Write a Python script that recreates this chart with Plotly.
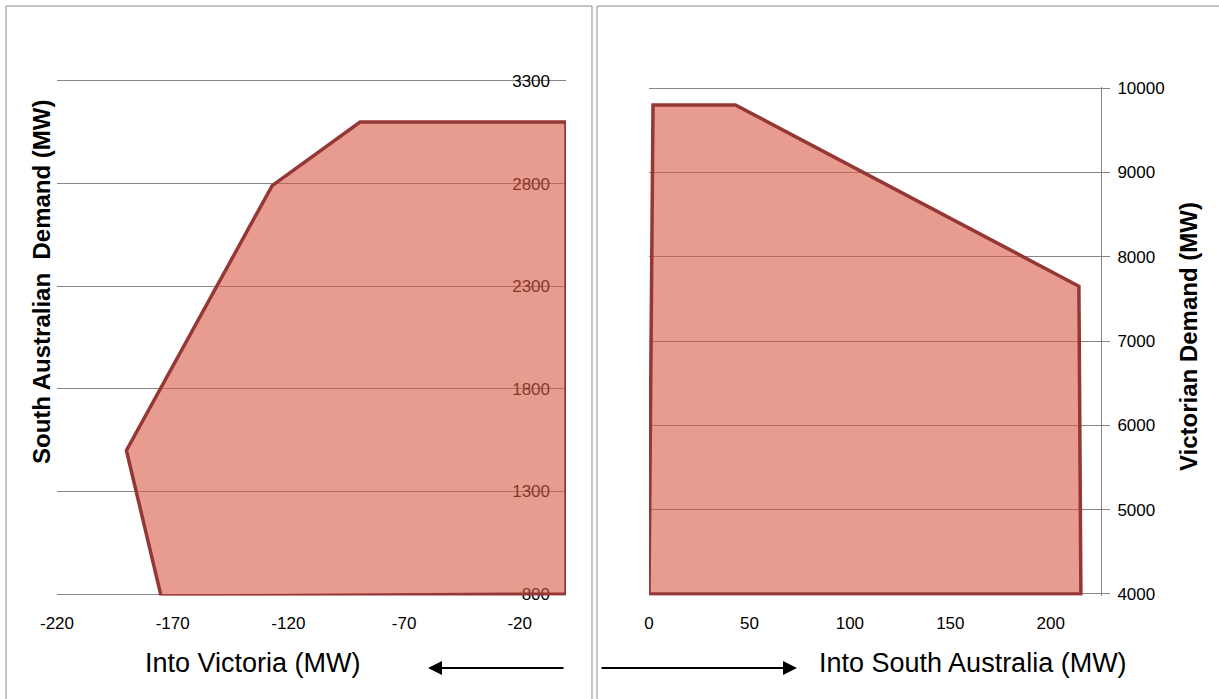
import plotly.graph_objects as go

W, H = 1219, 699

# Left chart: flow into Victoria vs South Australian demand
vic_flow_x = [-175, -190, -127, -89, 0, 0, -175]
sa_demand_y = [790, 1500, 2790, 3100, 3100, 800, 790]
left_xticks = [-220, -170, -120, -70, -20]
left_xticklabels = ["-220", "-170", "-120", "-70", "-20"]
left_yticks = [800, 1300, 1800, 2300, 2800, 3300]

# Right chart: flow into South Australia vs Victorian demand
sa_flow_x = [0, 2, 43, 214, 215, 0]
vic_demand_y = [4000, 9800, 9800, 7650, 4000, 4000]
right_xticks = [0, 50, 100, 150, 200]
right_yticks = [4000, 5000, 6000, 7000, 8000, 9000, 10000]

LINE = "#953735"
FILL = "rgba(217,90,70,0.6)"
GRID = "#868686"
TICKFONT = dict(family="Liberation Sans", size=17, color="#000000")

def px(x):
    return x / W

def py(y):
    return 1 - y / H

fig = go.Figure()
fig.add_trace(go.Scatter(x=vic_flow_x, y=sa_demand_y, mode="lines", fill="toself",
                         fillcolor=FILL, line=dict(color=LINE, width=3.5),
                         xaxis="x", yaxis="y", showlegend=False, hoverinfo="skip"))
fig.add_trace(go.Scatter(x=sa_flow_x, y=vic_demand_y, mode="lines", fill="toself",
                         fillcolor=FILL, line=dict(color=LINE, width=3.5),
                         xaxis="x2", yaxis="y2", showlegend=False, hoverinfo="skip"))

LX0, LX1 = 57, 566
RX0, RX1 = 649, 1101

# slightly padded ranges so the end gridlines are drawn
L_YR = [793, 3307]
L_DOM = [py(595.5), py(79.5)]
R_YR = [3982, 10018]
R_DOM = [py(595.5), py(86.5)]

fig.update_layout(
    width=W, height=H, margin=dict(l=0, r=0, t=0, b=0, autoexpand=False),
    paper_bgcolor="white", plot_bgcolor="rgba(0,0,0,0)",
    xaxis=dict(domain=[px(LX0), px(LX1)], range=[-220, 0], tickvals=left_xticks,
               ticktext=left_xticklabels,
               showgrid=False, zeroline=False, showline=False,
               ticks="outside", ticklen=12, tickcolor="rgba(0,0,0,0)",
               tickfont=TICKFONT, anchor="y3", fixedrange=True, automargin=False),
    # labels + gridlines of left demand axis, drawn below the polygon
    yaxis=dict(domain=L_DOM, range=L_YR, tickvals=left_yticks,
               side="left", anchor="free", position=px(550),
               showgrid=True, gridcolor=GRID, gridwidth=1, zeroline=False,
               showline=False, ticks="", layer="below traces",
               tickfont=TICKFONT, fixedrange=True, automargin=False),
    # axis line of the left chart on the right side
    yaxis3=dict(domain=L_DOM, range=L_YR, overlaying="y",
                side="right", anchor="x", showline=True, linecolor=GRID, linewidth=1,
                showgrid=False, zeroline=False, showticklabels=False, ticks="",
                fixedrange=True, automargin=False),
    xaxis2=dict(domain=[px(RX0), px(RX1)], range=[0, 225], tickvals=right_xticks,
                showgrid=False, zeroline=False, showline=False,
                ticks="outside", ticklen=12, tickcolor="rgba(0,0,0,0)",
                tickfont=TICKFONT, anchor="y2", fixedrange=True, automargin=False),
    yaxis2=dict(domain=R_DOM, range=R_YR, tickvals=right_yticks,
                tickformat="d",
                side="right", anchor="x2", ticks="outside", ticklen=8, tickcolor=GRID,
                ticklabelstandoff=4,
                showgrid=True, gridcolor=GRID, gridwidth=1, zeroline=False,
                showline=True, linecolor=GRID, linewidth=1, layer="below traces",
                tickfont=TICKFONT, fixedrange=True, automargin=False),
    shapes=[
        dict(type="rect", xref="paper", yref="paper", x0=px(6), x1=px(592), y0=-0.05, y1=py(6),
             line=dict(color="#8c8c8c", width=1), layer="below"),
        dict(type="rect", xref="paper", yref="paper", x0=px(597), x1=1.05, y0=-0.05, y1=py(6),
             line=dict(color="#8c8c8c", width=1), layer="below"),
    ],
    annotations=[
        dict(text="<b>South Australian  Demand (MW)</b>", xref="paper", yref="paper",
             x=px(42), y=py(282), textangle=-90, showarrow=False,
             xanchor="center", yanchor="middle",
             font=dict(family="Liberation Sans", size=24, color="black")),
        dict(text="<b>Victorian Demand (MW)</b>", xref="paper", yref="paper",
             x=px(1188), y=py(337), textangle=-90, showarrow=False,
             xanchor="center", yanchor="middle",
             font=dict(family="Liberation Sans", size=24, color="black")),
        dict(text="Into Victoria (MW)", xref="paper", yref="paper",
             x=px(253), y=py(663), showarrow=False, xanchor="center", yanchor="middle",
             font=dict(family="Liberation Sans", size=27, color="black")),
        dict(text="Into South Australia (MW)", xref="paper", yref="paper",
             x=px(973), y=py(663), showarrow=False, xanchor="center", yanchor="middle",
             font=dict(family="Liberation Sans", size=27, color="black")),
        dict(text="", xref="paper", yref="paper", x=px(428), y=py(668),
             ax=137, ay=0, showarrow=True, arrowhead=2, arrowsize=1.4, arrowwidth=2,
             arrowcolor="black"),
        dict(text="", xref="paper", yref="paper", x=px(797), y=py(668),
             ax=-197, ay=0, showarrow=True, arrowhead=2, arrowsize=1.4, arrowwidth=2,
             arrowcolor="black"),
    ],
)

fig.write_html("out.html", config={"displayModeBar": False},
               post_script="document.body.style.margin='0';")
